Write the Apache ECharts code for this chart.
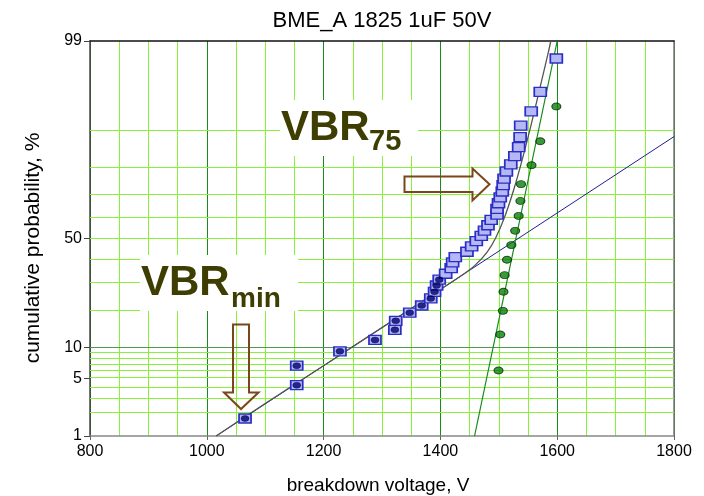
<!DOCTYPE html>
<html>
<head>
<meta charset="utf-8">
<script src="https://cdn.jsdelivr.net/npm/echarts@6/dist/echarts.min.js"></script>
<style>
  html, body { margin: 0; padding: 0; background: #fff; }
  #chart { width: 704px; height: 496px; }
</style>
</head>
<body>
<div id="chart"></div>
<script>
// Breakdown voltages (V) of all samples, with their cumulative probability (%)
const sampleVoltage = [1065.5, 1154, 1154, 1228, 1288, 1322, 1323.5, 1347.5, 1368, 1383.5,
  1390, 1393.5, 1398, 1409, 1418.5, 1421, 1425.5, 1445.5, 1453.5, 1461.5,
  1470, 1475.5, 1481.5, 1487, 1497, 1497, 1499.5, 1502.5, 1506, 1507.5,
  1509, 1513, 1520.5, 1527.5, 1534, 1536.5, 1537.5, 1555.5, 1571, 1598.5];
const samplePercent = [1.7, 4.2, 6.7, 9.2, 11.6, 14.1, 16.6, 19.1, 21.5, 24.0,
  26.5, 29.0, 31.4, 33.9, 36.4, 38.9, 41.3, 43.8, 46.3, 48.8,
  51.2, 53.7, 56.2, 58.7, 61.1, 63.6, 66.1, 68.6, 71.0, 73.5,
  76.0, 78.5, 80.9, 83.4, 85.9, 88.4, 90.8, 93.3, 95.8, 98.3];
// number of lowest samples belonging to the early-failure population
const earlyCount = 13;

// Upper population replotted on its own
const upperVoltage = [1499.5, 1502.5, 1507, 1508, 1510, 1514, 1521.5, 1528, 1534, 1537, 1538, 1556, 1571, 1598.5];
const upperPercent = [6.0, 12.9, 19.7, 26.5, 33.3, 40.1, 46.9, 53.6, 60.5, 67.1, 73.9, 80.6, 87.4, 94.0];

// Fitted lines
const earlyFitVoltage = [1016, 1800];
const earlyFitPercent = [1.0, 88.5];
const upperFitVoltage = [1458.5, 1600];
const upperFitPercent = [1.0, 99.0];
const combinedVoltage = [1016, 1100, 1200, 1300, 1400, 1440, 1460, 1480, 1495, 1510, 1525, 1540, 1555, 1570, 1585, 1589];
const combinedPercent = [1.0, 2.6, 6.7, 14.7, 27.4, 33.8, 37.8, 43.6, 50.5, 60.0, 71.3, 82.3, 90.8, 96.1, 98.6, 99.0];

// Probability axis
const probTicks = [1, 5, 10, 50, 99];
const probGrid = [2, 3, 4, 5, 6, 7, 8, 9, 10, 20, 30, 40, 50, 60, 70, 80, 90];
const probMajorGrid = [10];

// inverse standard normal CDF (Acklam)
function probit(p) {
  const a = [-3.969683028665376e+01, 2.209460984245205e+02, -2.759285104469687e+02, 1.383577518672690e+02, -3.066479806614716e+01, 2.506628277459239e+00];
  const b = [-5.447609879822406e+01, 1.615858368580409e+02, -1.556989798598866e+02, 6.680131188771972e+01, -1.328068155288572e+01];
  const c = [-7.784894002430293e-03, -3.223964580411365e-01, -2.400758277161838e+00, -2.549732539343734e+00, 4.374664141464968e+00, 2.938163982698783e+00];
  const d = [7.784695709041462e-03, 3.224671290700398e-01, 2.445134137142996e+00, 3.754408661907416e+00];
  const pl = 0.02425, ph = 1 - pl;
  let q, r;
  if (p < pl) {
    q = Math.sqrt(-2 * Math.log(p));
    return (((((c[0] * q + c[1]) * q + c[2]) * q + c[3]) * q + c[4]) * q + c[5]) / ((((d[0] * q + d[1]) * q + d[2]) * q + d[3]) * q + 1);
  }
  if (p <= ph) {
    q = p - 0.5; r = q * q;
    return (((((a[0] * r + a[1]) * r + a[2]) * r + a[3]) * r + a[4]) * r + a[5]) * q / (((((b[0] * r + b[1]) * r + b[2]) * r + b[3]) * r + b[4]) * r + 1);
  }
  q = Math.sqrt(-2 * Math.log(1 - p));
  return -(((((c[0] * q + c[1]) * q + c[2]) * q + c[3]) * q + c[4]) * q + c[5]) / ((((d[0] * q + d[1]) * q + d[2]) * q + d[3]) * q + 1);
}
const zp = pct => probit(pct / 100);
const pairs = (xs, ps) => xs.map((x, i) => [x, zp(ps[i])]);

const tickVals = probTicks.map(zp);
const FONT = '"Liberation Sans", Arial, sans-serif';
const LIGHT = '#88f238';
const DARK = '#188c18';
const OLIVE = '#3e3e02';
const BROWN = '#7a461a';

const chart = echarts.init(document.getElementById('chart'), null, { renderer: 'canvas' });

chart.setOption({
  animation: false,
  backgroundColor: '#fff',
  title: {
    text: 'BME_A 1825 1uF 50V',
    left: 377, top: 5, textAlign: 'center',
    textStyle: { fontFamily: FONT, fontSize: 22, fontWeight: 'normal', color: '#000' }
  },
  grid: { left: 90, right: 30, top: 41, bottom: 60, outerBoundsMode: 'none', containLabel: false },
  xAxis: [{
    type: 'value', min: 800, max: 1800, interval: 200,
    axisLine: { show: true, onZero: false, lineStyle: { color: '#888', width: 1.5 } },
    axisTick: { show: true, length: 4, lineStyle: { color: '#666' } },
    axisLabel: { fontFamily: FONT, fontSize: 16, color: '#000', margin: 8, formatter: v => String(v) },
    splitLine: { show: true, lineStyle: { color: DARK, width: 1 } },
    minorTick: { show: false, splitNumber: 4 },
    minorSplitLine: { show: true, lineStyle: { color: LIGHT, width: 1 } }
  }, {
    type: 'value', position: 'top', min: 800, max: 1800,
    axisLine: { show: true, onZero: false, lineStyle: { color: '#111', width: 1.5 } },
    axisTick: { show: false }, axisLabel: { show: false }, splitLine: { show: false }
  }],
  yAxis: [{
    type: 'value', min: zp(1), max: zp(99),
    axisLine: { show: true, onZero: false, lineStyle: { color: '#444', width: 1.5 } },
    axisTick: { show: true, length: 6, customValues: tickVals, lineStyle: { color: '#444' } },
    axisLabel: {
      customValues: tickVals, fontFamily: FONT, fontSize: 16, color: '#000', margin: 8,
      formatter: v => {
        let best = 0;
        tickVals.forEach((t, i) => { if (Math.abs(t - v) < Math.abs(tickVals[best] - v)) best = i; });
        return String(probTicks[best]);
      }
    },
    splitLine: { show: false }
  }, {
    type: 'value', position: 'right', min: zp(1), max: zp(99),
    axisLine: { show: true, onZero: false, lineStyle: { color: '#777', width: 1.5 } },
    axisTick: { show: false }, axisLabel: { show: false }, splitLine: { show: false }
  }],
  graphic: {
    z: 3,
    elements: [
      // axis titles
      {
        type: 'text', z: 4, x: 33, y: 248, rotation: Math.PI / 2,
        style: { text: 'cumulative probability, %', align: 'center', verticalAlign: 'middle', font: '21px ' + FONT, fill: '#000' }
      },
      {
        type: 'text', z: 4, x: 378, y: 486,
        style: { text: 'breakdown voltage, V', align: 'center', verticalAlign: 'middle', font: '19px ' + FONT, fill: '#000' }
      },
      { type: 'rect', z: 3, shape: { x: 140, y: 255, width: 158, height: 56 }, style: { fill: '#fff' } },
      { type: 'text', z: 4, style: { text: 'VBR', x: 141, y: 283, verticalAlign: 'middle', font: 'bold 42px ' + FONT, fill: OLIVE } },
      { type: 'text', z: 4, style: { text: 'min', x: 231, y: 299, verticalAlign: 'middle', font: 'bold 28px ' + FONT, fill: OLIVE } },
      { type: 'rect', z: 3, shape: { x: 280, y: 100, width: 138, height: 56 }, style: { fill: '#fff' } },
      { type: 'text', z: 4, style: { text: 'VBR', x: 281, y: 128, verticalAlign: 'middle', font: 'bold 42px ' + FONT, fill: OLIVE } },
      { type: 'text', z: 4, style: { text: '75', x: 369, y: 142, verticalAlign: 'middle', font: 'bold 29px ' + FONT, fill: OLIVE } },
      {
        type: 'polygon', z: 4,
        shape: { points: [[233, 324.5], [249, 324.5], [249, 392.5], [258.5, 392.5], [241, 409], [224, 392.5], [233, 392.5]] },
        style: { fill: 'none', stroke: BROWN, lineWidth: 2 }
      },
      {
        type: 'polygon', z: 4,
        shape: { points: [[404.5, 176.5], [472.5, 176.5], [472.5, 168.5], [489.5, 184.3], [472.5, 200.5], [472.5, 192], [404.5, 192]] },
        style: { fill: 'none', stroke: BROWN, lineWidth: 2 }
      }
    ]
  },
  series: [
    {
      type: 'line', name: 'probability grid', data: [], z: 1, silent: true,
      markLine: {
        z: 1, silent: true, symbol: 'none', animation: false, label: { show: false },
        emphasis: { disabled: true },
        data: probGrid.map(p => ({
          yAxis: zp(p),
          lineStyle: { type: 'solid', width: 1, color: probMajorGrid.includes(p) ? '#4f9a4f' : LIGHT }
        }))
      }
    },
    {
      type: 'line', name: 'early fit', z: 5, data: pairs(earlyFitVoltage, earlyFitPercent),
      showSymbol: false, lineStyle: { color: '#1e1e98', width: 1 }
    },
    {
      type: 'line', name: 'combined fit', z: 5, data: pairs(combinedVoltage, combinedPercent),
      showSymbol: false, smooth: 0.3, lineStyle: { color: '#555', width: 1.3 }
    },
    {
      type: 'line', name: 'upper fit', z: 5, data: pairs(upperFitVoltage, upperFitPercent),
      showSymbol: false, lineStyle: { color: '#16881a', width: 1.2 }
    },
    {
      type: 'scatter', name: 'all samples', z: 6, data: pairs(sampleVoltage, samplePercent),
      symbol: 'rect', symbolSize: [12, 9],
      itemStyle: { color: '#b6b8f6', borderColor: '#2a2ec4', borderWidth: 1.5, opacity: 1 }
    },
    {
      type: 'scatter', name: 'early population', z: 7,
      data: pairs(sampleVoltage.slice(0, earlyCount), samplePercent.slice(0, earlyCount)),
      symbol: 'circle', symbolSize: [8, 6],
      itemStyle: { color: '#00006e', borderColor: '#000040', borderWidth: 0.5 }
    },
    {
      type: 'scatter', name: 'upper population', z: 7, data: pairs(upperVoltage, upperPercent),
      symbol: 'circle', symbolSize: [9, 7],
      itemStyle: { color: '#0a800a', borderColor: '#062a06', borderWidth: 1 }
    }
  ]
});
</script>
</body>
</html>
